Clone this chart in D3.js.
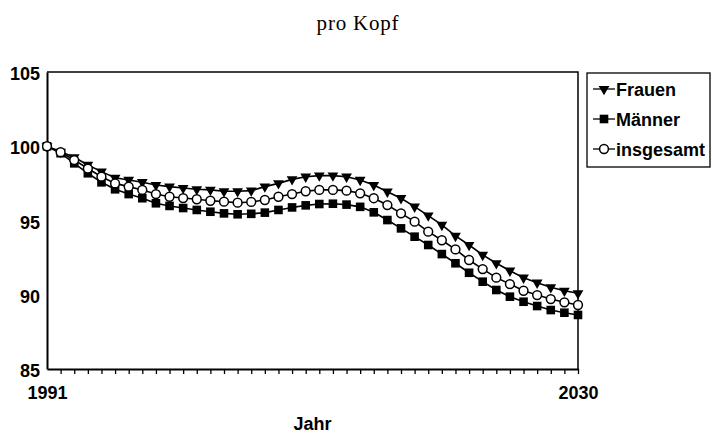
<!DOCTYPE html>
<html>
<head>
<meta charset="utf-8">
<script src="https://cdn.jsdelivr.net/npm/d3@7"></script>
<style>
  body { margin: 0; background: #fff; }
  svg { display: block; }
  .lbl { font-family: "Liberation Sans", Arial, sans-serif; font-weight: bold; fill: #000; }
</style>
</head>
<body>
<div id="chart"></div>
<script>
// Jahre 1991..2030
const years = d3.range(1991, 2031)
const yTicks = [85, 90, 95, 100, 105]
const xLabels = [1991, 2030]

const frauen = [100, 99.63, 99.26, 98.74, 98.29, 97.88, 97.73, 97.58, 97.39, 97.28,
    97.19, 97.10, 97.06, 96.97, 96.97, 97.01, 97.28, 97.50, 97.77, 97.95,
    98.02, 98.02, 97.95, 97.73, 97.39, 96.94, 96.50, 95.93, 95.33, 94.70,
    93.96, 93.35, 92.68, 92.12, 91.62, 91.15, 90.81, 90.50, 90.27, 90.10]

const maenner = [100, 99.53, 98.85, 98.18, 97.57, 97.10, 96.78, 96.50, 96.16, 95.98,
    95.84, 95.71, 95.59, 95.48, 95.42, 95.45, 95.53, 95.71, 95.88, 96.02,
    96.11, 96.13, 96.07, 95.92, 95.55, 95.03, 94.47, 93.91, 93.35, 92.74,
    92.12, 91.48, 90.88, 90.32, 89.87, 89.53, 89.24, 88.97, 88.79, 88.64]

const insgesamt = [100, 99.60, 99.07, 98.50, 97.95, 97.50, 97.28, 97.06, 96.78, 96.60,
    96.51, 96.43, 96.33, 96.27, 96.20, 96.25, 96.38, 96.60, 96.78, 96.97,
    97.06, 97.06, 97.01, 96.83, 96.50, 96.04, 95.48, 94.92, 94.25, 93.67,
    93.05, 92.34, 91.73, 91.15, 90.72, 90.27, 89.98, 89.71, 89.49, 89.31]

const series = [
    { name: 'Frauen', values: frauen, symbol: 'tri' },
    { name: 'Männer', values: maenner, symbol: 'sq' },
    { name: 'insgesamt', values: insgesamt, symbol: 'circ' }
]

const width = 712
const height = 441
const plot = { left: 47, right: 578, top: 72, bottom: 369 }

const x = d3.scaleLinear().domain([1991, 2030]).range([plot.left, plot.right])
const y = d3.scaleLinear().domain([85, 105]).range([plot.bottom, plot.top])

const svg = d3.select('#chart').append('svg')
    .attr('width', width)
    .attr('height', height)

// Titel
svg.append('text')
    .attr('x', 358)
    .attr('y', 30)
    .attr('text-anchor', 'middle')
    .attr('font-family', '"Liberation Serif", "Times New Roman", serif')
    .attr('font-size', 21)
    .attr('letter-spacing', 0.8)
    .text('pro Kopf')

// Rahmen oben / rechts
svg.append('path')
    .attr('d', `M${plot.left},${plot.top}H${plot.right}V${plot.bottom}`)
    .attr('fill', 'none')
    .attr('stroke', '#000')
    .attr('stroke-width', 1.5)

// y-Achse
const yAxis = svg.append('g')
    .attr('transform', `translate(${plot.left},0)`)
    .call(d3.axisLeft(y).tickValues(yTicks).tickSize(0).tickPadding(7))
yAxis.select('.domain').attr('stroke-width', 2)
yAxis.selectAll('text')
    .attr('class', 'lbl')
    .attr('font-size', 18)
    .attr('dy', '0.42em')

// x-Achse
const xAxis = svg.append('g')
    .attr('transform', `translate(0,${plot.bottom})`)
    .call(d3.axisBottom(x)
        .tickValues(years)
        .tickSize(5)
        .tickSizeOuter(0)
        .tickPadding(12)
        .tickFormat(d => xLabels.includes(d) ? String(d) : ''))
xAxis.select('.domain').attr('stroke-width', 2)
xAxis.selectAll('.tick line').attr('stroke-width', 1.3)
xAxis.selectAll('.tick').filter(d => d === 1991).select('line').remove()
xAxis.selectAll('text')
    .attr('class', 'lbl')
    .attr('font-size', 18)

svg.append('text')
    .attr('class', 'lbl')
    .attr('x', (plot.left + plot.right) / 2)
    .attr('y', 430)
    .attr('text-anchor', 'middle')
    .attr('font-size', 18)
    .text('Jahr')

const line = d3.line()
    .x((d, i) => x(years[i]))
    .y(d => y(d))

const triPath = d3.symbol().type(d3.symbolTriangle).size(50)

function drawSymbol(g, symbol) {
    if (symbol === 'tri') {
        g.append('path')
            .attr('d', triPath())
            .attr('transform', 'rotate(180)')
            .attr('fill', '#000')
    } else if (symbol === 'sq') {
        g.append('rect')
            .attr('x', -4.3).attr('y', -4.3)
            .attr('width', 8.6).attr('height', 8.6)
            .attr('fill', '#000')
    } else {
        g.append('circle')
            .attr('r', 4.4)
            .attr('fill', '#fff')
            .attr('stroke', '#000')
            .attr('stroke-width', 1.5)
    }
}

series.forEach(s => {
    svg.append('path')
        .datum(s.values)
        .attr('d', line)
        .attr('fill', 'none')
        .attr('stroke', '#000')
        .attr('stroke-width', 1.6)
})

series.forEach(s => {
    svg.append('g').selectAll('g')
        .data(s.values)
        .enter()
        .append('g')
        .attr('transform', (d, i) => `translate(${x(years[i])},${y(d)})`)
        .each(function () { drawSymbol(d3.select(this), s.symbol) })
})

// Legende
const legend = svg.append('g')
legend.append('rect')
    .attr('x', 587).attr('y', 73)
    .attr('width', 123).attr('height', 94)
    .attr('fill', '#fff')
    .attr('stroke', '#000')
    .attr('stroke-width', 1.3)

series.forEach((s, i) => {
    const cy = 89 + i * 30
    const item = legend.append('g').attr('transform', `translate(0,${cy})`)
    item.append('line')
        .attr('x1', 593).attr('x2', 615)
        .attr('stroke', '#000')
        .attr('stroke-width', 1.3)
    drawSymbol(item.append('g').attr('transform', 'translate(604,0)'), s.symbol)
    item.append('text')
        .attr('class', 'lbl')
        .attr('x', 616)
        .attr('y', 7)
        .attr('font-size', 18)
        .text(s.name)
})
</script>
</body>
</html>
